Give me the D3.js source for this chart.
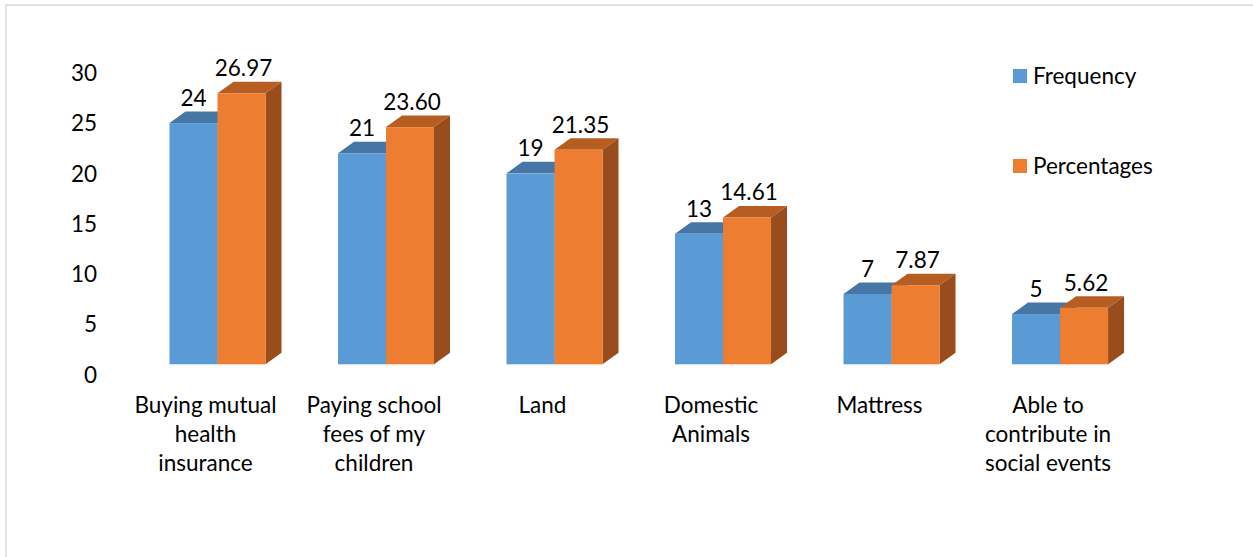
<!DOCTYPE html>
<html>
<head>
<meta charset="utf-8">
<script src="https://cdn.jsdelivr.net/npm/d3@7"></script>
<style>
  html, body { margin: 0; padding: 0; background: #fff; }
  svg { display: block; }
  text { font-family: Lato, "Open Sans", sans-serif; fill: #000; }
</style>
</head>
<body>
<svg id="chart" width="1253" height="557"></svg>
<script>
// Uses of money received, by category
const categories = [
  ["Buying mutual", "health", "insurance"],
  ["Paying school", "fees of my", "children"],
  ["Land"],
  ["Domestic", "Animals"],
  ["Mattress"],
  ["Able to", "contribute in", "social events"]
];
const seriesNames = ["Frequency", "Percentages"];
const frequency = [24, 21, 19, 13, 7, 5];
const percentages = [26.97, 23.60, 21.35, 14.61, 7.87, 5.62];
const percentageLabels = ["26.97", "23.60", "21.35", "14.61", "7.87", "5.62"];
const yTicks = [0, 5, 10, 15, 20, 25, 30];

const colors = {
  Frequency: { front: "#5B9BD5", top: "#4676A5", side: "#3F6C96" },
  Percentages: { front: "#ED7D31", top: "#B65E22", side: "#9A4D1C" }
};

const FONT = 22.5;
const svg = d3.select("#chart");
const W = 1253, H = 557;

// chart area frame (only top and left edges fall inside the page)
svg.append("rect").attr("x", 6).attr("y", 5).attr("width", W).attr("height", H)
  .attr("fill", "#fff").attr("stroke", "#D9D9D9").attr("stroke-width", 1.5);

const keys = categories.map(c => c.join(" "));
const x = d3.scaleBand().domain(keys)
  .range([118.95, 1158.6]).paddingInner(0.4303).paddingOuter(0.3);
const xs = d3.scaleBand().domain(seriesNames).range([0, x.bandwidth()]);
const y = d3.scaleLinear().domain([0, 30]).range([364.3, 62.8]);

// depth of the 3-D extrusion
const DX = 16, DY = -11.5;

// value axis labels
const axisG = svg.append("g").attr("transform", "translate(97,10.7)")
  .call(d3.axisLeft(y).tickValues(yTicks).tickSize(0).tickPadding(0).tickFormat(d3.format("d")));
axisG.select(".domain").remove();
axisG.selectAll("text").attr("font-size", FONT).attr("font-family", "Lato, sans-serif").attr("fill", "#000");

const rows = categories.map((c, i) => ({
  key: keys[i],
  vals: [
    { s: "Frequency", v: frequency[i], label: String(frequency[i]) },
    { s: "Percentages", v: percentages[i], label: percentageLabels[i] }
  ]
}));

const groups = svg.append("g").selectAll("g").data(rows).join("g")
  .attr("transform", d => `translate(${x(d.key)},0)`);

const bars = groups.selectAll("g.bar").data(d => d.vals).join("g").attr("class", "bar");

bars.each(function (d) {
  const g = d3.select(this);
  const x0 = xs(d.s), x1 = x0 + xs.bandwidth();
  const yt = y(d.v), yb = y(0);
  const c = colors[d.s];
  // top face
  g.append("path")
    .attr("d", `M${x0},${yt}L${x0 + DX},${yt + DY}L${x1 + DX},${yt + DY}L${x1},${yt}Z`)
    .attr("fill", c.top);
  // side face
  g.append("path")
    .attr("d", `M${x1},${yt}L${x1 + DX},${yt + DY}L${x1 + DX},${yb + DY}L${x1},${yb}Z`)
    .attr("fill", c.side);
  // front face
  g.append("rect").attr("x", x0).attr("y", yt)
    .attr("width", xs.bandwidth()).attr("height", yb - yt)
    .attr("fill", c.front);
  // value label
  g.append("text")
    .attr("x", x0 + xs.bandwidth() / 2 + (d.s === "Percentages" ? 2 : 0))
    .attr("y", yt - 17)
    .attr("text-anchor", "middle")
    .attr("font-size", FONT)
    .text(d.label);
});

// category labels
groups.append("text")
  .attr("text-anchor", "middle")
  .attr("font-size", FONT)
  .each(function (d, i) {
    const t = d3.select(this);
    categories[i].forEach((line, j) => {
      t.append("tspan").attr("x", 36).attr("y", 412.5 + j * 29.3).text(line);
    });
  });

// legend
const legend = svg.append("g").selectAll("g").data(seriesNames).join("g")
  .attr("transform", (d, i) => `translate(1013,${69 + i * 90})`);
legend.append("rect").attr("width", 14).attr("height", 14)
  .attr("fill", d => colors[d].front);
legend.append("text").attr("x", 20).attr("y", 14.5)
  .attr("font-size", FONT).text(d => d);
</script>
</body>
</html>
